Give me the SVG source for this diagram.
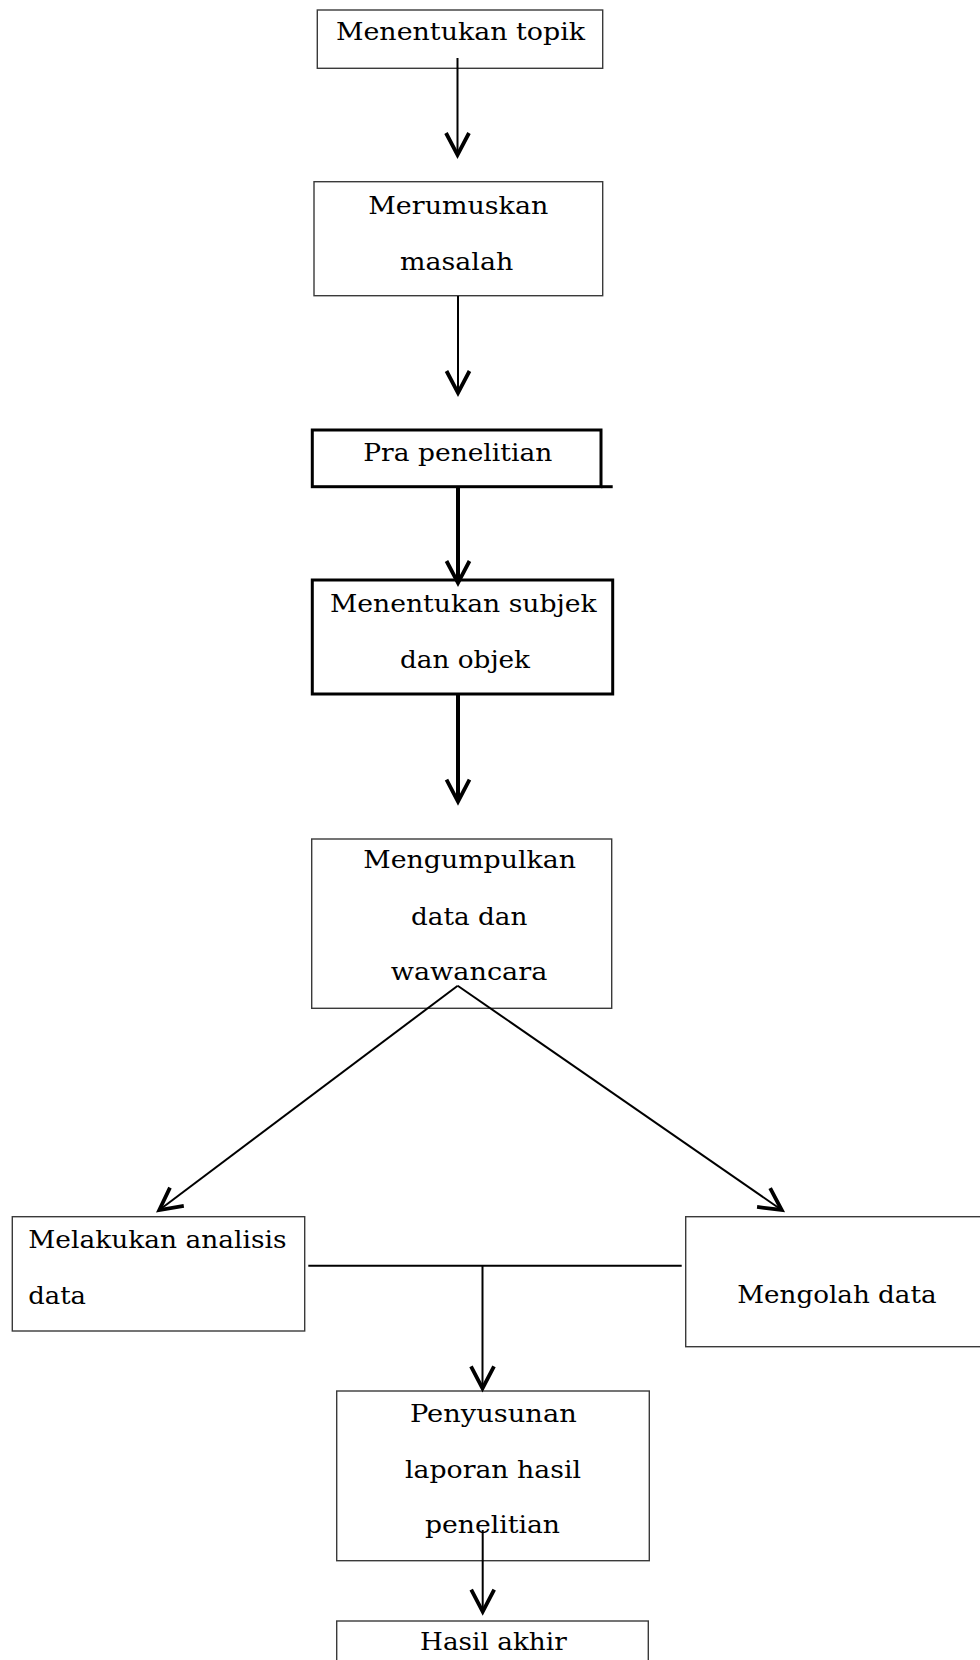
<svg xmlns="http://www.w3.org/2000/svg" width="980" height="1660" viewBox="0 0 980 1660">
<style>
.bg{fill:#ffffff}
.box{fill:none;stroke:#3a3a3a;stroke-width:1.4}
.boxb{fill:none;stroke:#000;stroke-width:3}
.t{font-family:"DejaVu Serif","Liberation Serif",serif;font-size:25px;fill:#000}
.c{fill:none;stroke:#000;stroke-width:2}
.cb{fill:none;stroke:#000;stroke-width:4}
</style>
<defs>
<marker id="chev" markerUnits="userSpaceOnUse" markerWidth="40" markerHeight="40" viewBox="-30 -20 40 40" refX="0" refY="0" orient="auto" overflow="visible">
<path d="M-22,-11.5 L0,0 L-22,11.5" fill="none" stroke="#000" stroke-width="3.8" stroke-linejoin="miter"/>
</marker>
</defs>
<rect class="bg" x="0" y="0" width="980" height="1660"/>
<g id="n1">
<rect class="box" x="317.3" y="10" width="285.4" height="58.3"/>
<text class="t" x="336" y="40" textLength="249" lengthAdjust="spacingAndGlyphs">Menentukan topik</text>
</g>
<g id="n2">
<rect class="box" x="314" y="181.7" width="288.7" height="114"/>
<text class="t" x="368.3" y="214.3" textLength="180" lengthAdjust="spacingAndGlyphs">Merumuskan</text>
<text class="t" x="400" y="270" textLength="113.3" lengthAdjust="spacingAndGlyphs">masalah</text>
</g>
<g id="n3">
<rect class="boxb" x="312.3" y="430" width="288.7" height="56.7"/>
<line class="boxb" x1="601" y1="486.7" x2="612.7" y2="486.7"/>
<text class="t" x="363.3" y="460.7" textLength="189" lengthAdjust="spacingAndGlyphs">Pra penelitian</text>
</g>
<g id="n4">
<rect class="boxb" x="312.3" y="580" width="300.4" height="114"/>
<text class="t" x="330" y="611.7" textLength="266.7" lengthAdjust="spacingAndGlyphs">Menentukan subjek</text>
<text class="t" x="400" y="668" textLength="130" lengthAdjust="spacingAndGlyphs">dan objek</text>
</g>
<g id="n5">
<rect class="box" x="311.7" y="839" width="300" height="169.3"/>
<text class="t" x="363.3" y="868.3" textLength="212.7" lengthAdjust="spacingAndGlyphs">Mengumpulkan</text>
<text class="t" x="411" y="925" textLength="116.3" lengthAdjust="spacingAndGlyphs">data dan</text>
<text class="t" x="390.7" y="980" textLength="156.7" lengthAdjust="spacingAndGlyphs">wawancara</text>
</g>
<g id="n6">
<rect class="box" x="12.3" y="1216.7" width="292.4" height="114.3"/>
<text class="t" x="28.3" y="1248.3" textLength="258.3" lengthAdjust="spacingAndGlyphs">Melakukan analisis</text>
<text class="t" x="28.3" y="1304" textLength="57.7" lengthAdjust="spacingAndGlyphs">data</text>
</g>
<g id="n7">
<rect class="box" x="685.7" y="1216.7" width="310" height="130"/>
<text class="t" x="737.3" y="1303.3" textLength="199.3" lengthAdjust="spacingAndGlyphs">Mengolah data</text>
</g>
<g id="n8">
<rect class="box" x="336.7" y="1391" width="312.6" height="169.7"/>
<text class="t" x="410" y="1421.7" textLength="166.7" lengthAdjust="spacingAndGlyphs">Penyusunan</text>
<text class="t" x="405" y="1478.3" textLength="176" lengthAdjust="spacingAndGlyphs">laporan hasil</text>
<text class="t" x="425" y="1533.3" textLength="135" lengthAdjust="spacingAndGlyphs">penelitian</text>
</g>
<g id="n9">
<rect class="box" x="336.7" y="1621" width="311.6" height="60"/>
<text class="t" x="420" y="1650" textLength="146.7" lengthAdjust="spacingAndGlyphs">Hasil akhir</text>
</g>
<g id="connectors">
<line class="c" x1="457.5" y1="58" x2="457.5" y2="155" marker-end="url(#chev)"/>
<line class="c" x1="458" y1="296" x2="458" y2="393" marker-end="url(#chev)"/>
<line class="cb" x1="458" y1="487" x2="458" y2="583" marker-end="url(#chev)"/>
<line class="cb" x1="458" y1="694" x2="458" y2="801.7" marker-end="url(#chev)"/>
<line class="c" x1="457.7" y1="985.7" x2="159.3" y2="1210" marker-end="url(#chev)"/>
<line class="c" x1="457.7" y1="985.7" x2="781.7" y2="1210" marker-end="url(#chev)"/>
<line class="c" x1="308.3" y1="1265.7" x2="681.7" y2="1265.7"/>
<line class="c" x1="482.5" y1="1265.7" x2="482.5" y2="1388.3" marker-end="url(#chev)"/>
<line class="c" x1="482.7" y1="1530" x2="482.7" y2="1611.7" marker-end="url(#chev)"/>
</g>
</svg>
